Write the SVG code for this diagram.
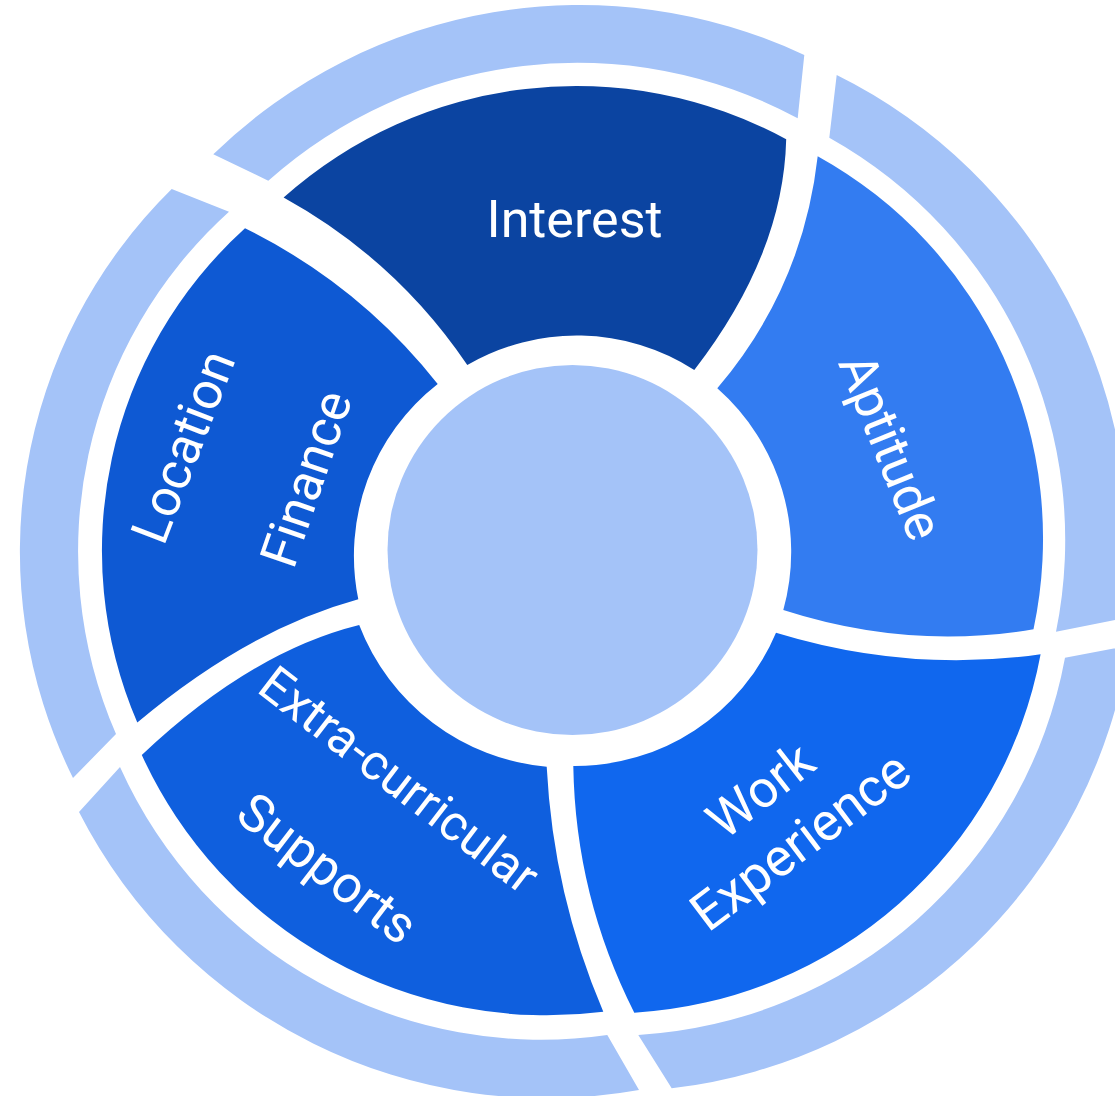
<svg xmlns="http://www.w3.org/2000/svg" width="1115" height="1096" viewBox="0 0 1115 1096">
<style>
.ring{fill:#A4C3F8}
.lbl{font-family:Roboto,"Liberation Sans",sans-serif;font-size:52px;fill:#ffffff;text-anchor:middle}
</style>
<rect width="1115" height="1096" fill="#ffffff"/>
<g id="outer-ring">
<path class="ring" d="M 213.3 154.3 A 526 526 0 0 1 804.3 55 L 797.7 118.3 A 464 464 0 0 0 268.3 180.7 Z"/>
<path class="ring" d="M 836.7 75 A 522 522 0 0 1 1122 618.6 L 1056 631.7 A 461 461 0 0 0 829.3 137.7 Z"/>
<path class="ring" d="M 1128.9 645.7 A 525 525 0 0 1 671.7 1088.3 L 638.3 1035 A 462 462 0 0 0 1065 657.7 Z"/>
<path class="ring" d="M 639 1090 A 525 525 0 0 1 79 812 L 120 767 A 462 462 0 0 0 607.3 1035 Z"/>
<path class="ring" d="M 73 778 A 509 509 0 0 1 171.7 189 L 229 211.7 A 458 458 0 0 0 116 734 Z"/>
</g>
<g id="center">
<circle cx="572.5" cy="550" r="185" fill="#A4C3F8"/>
</g>
<g id="interest">
<path fill="#0B44A1" d="M 283.6 197.5 A 440 440 0 0 1 786.2 139.2 Q 783.4 254.5 694.3 370 A 218 218 0 0 0 467.3 365 Q 395.7 259.3 283.6 197.5 Z"/>
<text class="lbl" x="574.5" y="237">Interest</text>
</g>
<g id="aptitude">
<path fill="#337CF1" d="M 817.7 156.2 A 437 437 0 0 1 1033.5 629.3 Q 908.4 650.3 783.3 610 A 218 218 0 0 0 717.3 388.3 Q 802.9 287.6 817.7 156.2 Z"/>
<text class="lbl" x="890" y="464" transform="rotate(68 890 447)">Aptitude</text>
</g>
<g id="work-experience">
<path fill="#1067EE" d="M 776 632.7 Q 908.3 673.1 1040.6 654.2 A 440 440 0 0 1 634.3 1012.7 Q 575.4 896.35 573.3 766 A 218 218 0 0 0 776 632.7 Z"/>
<text class="lbl" x="761" y="808" transform="rotate(-38 761 791)">Work</text>
<text class="lbl" x="801" y="859" transform="rotate(-37 801 842)" style="font-size:53px">Experience</text>
</g>
<g id="extra-curricular-supports">
<path fill="#0F5FDE" d="M 546.7 766.7 Q 553.2 894.2 603.3 1011.7 A 445 445 0 0 1 141.8 755 Q 250.5 652 359.2 625 A 222 222 0 0 0 546.7 766.7 Z"/>
<text class="lbl" x="399" y="797" transform="rotate(37.5 399 780)" style="font-size:50px">Extra-curricular</text>
<text class="lbl" x="327" y="886" transform="rotate(37.5 327 869)">Supports</text>
</g>
<g id="location-finance">
<path fill="#0E59D3" d="M 358.3 599.3 Q 247.8 629.55 137.3 722.6 A 435 435 0 0 1 245 228.3 Q 359 284.4 437.7 384 A 218 218 0 0 0 358.3 599.3 Z"/>
<text class="lbl" x="184" y="464" transform="rotate(-69 184 447)">Location</text>
<text class="lbl" x="307" y="496" transform="rotate(-71 307 479)">Finance</text>
</g>
<g id="connectors"></g>
</svg>
